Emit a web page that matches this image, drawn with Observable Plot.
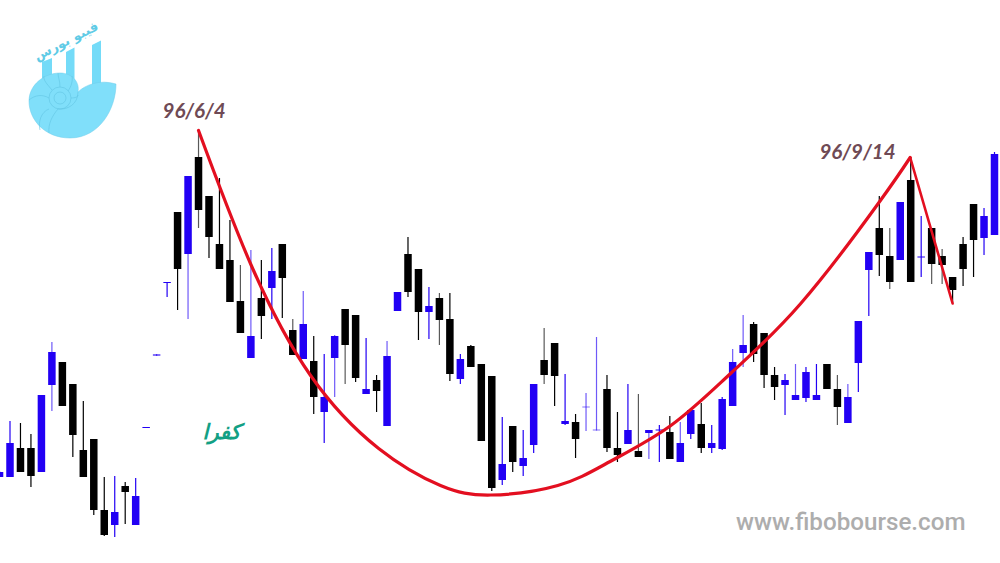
<!DOCTYPE html>
<html>
<head>
<meta charset="utf-8">
<script src="https://cdn.jsdelivr.net/npm/d3@7"></script>
<script src="https://cdn.jsdelivr.net/npm/@observablehq/plot@0.6"></script>
<style>
html,body{margin:0;padding:0;background:#fff;width:1000px;height:563px;overflow:hidden}
#wrap{position:relative;width:1000px;height:563px}
#logo{position:absolute;left:0;top:0}
</style>
</head>
<body>
<div id="wrap"><div id="chart"></div>
<svg id="logo" width="130" height="150" viewBox="0 0 130 150">
  <g fill="#74dbf8">
    <path d="M42 62L52 58V90H42Z"/>
    <path d="M66 52L74.500 47.500V90H66Z"/>
    <path d="M92 45L101 40.500V90H92Z"/>
  </g>
  <path d="M116 84C116 108 100 138 70 138C45 138 29 120 29 101C29 85 44 73 60 73C72 73 80 82 78 92C85 85 100 79 116 84Z" fill="#80dffa" stroke="#6fcdea" stroke-width=".5"/>
  <g fill="none" stroke="#62c4e2" stroke-width=".6">
    <circle cx="60" cy="98" r="11"/>
    <circle cx="60" cy="98" r="6"/>
    <path d="M78 92C78 104 68 110 58 109C52 116 48 124 49 133M49 109C41 112 38 122 40 130M49 98C42 94 35 95 29 100M52 90C47 84 43 80 44 76M60 87C60 81 58 77 58 73M68 91C71 87 73 81 72 76M71 98C75 98 78 97 78 95"/>
  </g>
  <text x="68" y="45" text-anchor="middle" transform="rotate(-27 68 45)" font-family="'DejaVu Sans'" font-size="13" font-weight="bold" fill="#5fcbe6" direction="rtl">فیبو بورس</text>
</svg>
</div>
<script>
const bar = d3.range(-1, 95);
const high = [471,421,423,434,395,342,362,384,401,439,477,476,482,478,427,354,282,212,176,130,196,178,220,265,250,260,248,244,319,291,336,354,335,309,315,338,375,341,292,237,269,287,293,293,354,345,364,376,417,426,430,384,328,343,374,414,393,337,375,412,384,394,430,425,416,422,410,403,425,397,349,315,322,333,367,374,364,367,364,364,375,384,321,252,196,228,202,157,216,228,249,277,237,204,208,152];
const top_ = [472,443,448,448,395,352,362,384,450,439,510,512,486,496,427,354,282,212,176,157,196,244,260,301,336,298,271,244,330,324,361,397,336,309,315,389,380,356,292,254,269,306,298,319,359,346,364,376,464,426,458,384,360,343,421,422,406.5,429.5,389,448,430,451,430,429.5,432,443,410,424,443,399,362,345,324,333,375,380,395,372,395,364,389,397,321,252,228,256,202,180,256.5,228,256,277,244,204,216,154];
const bottom = [477,477,472,476,472,385,406,435,477,510,535,525,492,525,428,356,283,269,254,210,237,269,302,333,358,316,288,278,355,359,397,412,358,345,378,394,391,426,311,292,312,312,320,374,379,367,441,488,480,462,466,445,375,376,424,439,407.5,430.5,448,455,444,457,433,430.5,459,462,434,448,448,449,406,353,354,375,387,385,400,398,400,389,407,423,363,270,255,282,260,282,257.5,264,265,290,269,240,238,235];
const low = [477,477,472,487,472,411,406,457,477,515,536,537,524,525,428,356,297,310,319,228,258,269,302,333,358,339,319,318,355,359,414,443,397,384,382,394,412,426,311,297,340,339,345,381,384,367,441,491,485,472,476,453,384,406,425,458,431,430.5,452,462,444,457,459,462,459,462,439,453,453,450,406,367,362,388,400,415,400,402,400,389,425,423,392,316,276,289,260,282,277,284,284,303,286,277,255,235];
const upBars = [-1,0,3,4,10,12,13,14,15,17,23,25,28,30,31,34,36,37,40,43,47,49,50,53,55,56,59,61,62,64,65,67,68,69,70,74,75,76,77,80,81,82,85,87,93,94];
const softBars = [4,14,17,18,22,23,27,28,31,32,36,41,51,55,56,60,61,64,69,70,75,79,80,84,88,89];

const curveBar = [18,23,28.7,35.2,41.1,45.9,52.3,57.3,63.1,68.8,75.5,82.9,85.95];
const curveVal = [130,264,375,448,485,494.5,485,461,425,373,303,203,157];
const dropBar = [85.95,90];
const dropVal = [157,303];

const dateLabels = ["96/6/4","96/9/14"];
const dateBars = [20.6,84.55];
const dateVals = [111,152];
const symbol = "کفرا";
const site = "www.fibobourse.com";

const BLUE = "#2200f4", RED = "#e30f20";
const candles = bar.map((b,i)=>({b,high:high[i],top:top_[i],bottom:bottom[i],low:low[i],
  color: upBars.includes(b)?BLUE:"#000", soft: softBars.includes(b)}));
const curve = curveBar.map((b,i)=>({b,v:curveVal[i]}));
const drop = dropBar.map((b,i)=>({b,v:dropVal[i]}));
const labels = dateLabels.map((t,i)=>({t,b:dateBars[i],v:dateVals[i]}));

const chart = Plot.plot({
  width:1000,height:563,margin:0,
  style:{background:"#fff"},
  x:{axis:null,domain:[0,94],range:[9.5,994]},
  y:{axis:null,domain:[563,0]},
  marks:[
    Plot.ruleX(candles,{x:"b",y1:"high",y2:"low",stroke:"color",strokeWidth:1.2,strokeOpacity:d=>d.soft?0.65:1}),
    Plot.ruleX(candles,{x:"b",y1:"top",y2:"bottom",stroke:"color",strokeWidth:7.5,strokeOpacity:d=>(d.bottom-d.top<=2&&d.soft)?0.55:1}),
    Plot.line(curve,{x:"b",y:"v",stroke:RED,strokeWidth:3.2,curve:"natural"}),
    Plot.line(drop,{x:"b",y:"v",stroke:RED,strokeWidth:2.6}),
    Plot.text(labels,{x:"b",y:"v",text:"t",fill:"#6f4a55",fontSize:20.5,fontWeight:700,fontStyle:"italic",fontFamily:"Lato",textAnchor:"end",style:{letterSpacing:"1.2px"}}),
    Plot.text([symbol],{x:[20.2],y:[432],text:d=>d,fill:"#12a084",fontSize:21,fontWeight:"bold",fontStyle:"italic",fontFamily:"DejaVu Sans"}),
    Plot.text([site],{frameAnchor:"bottom-right",dx:-35,dy:-34,text:d=>d,fill:"#adadad",fontSize:24.2,fontWeight:500,fontFamily:"Roboto"})
  ]
});
document.getElementById("chart").appendChild(chart);
</script>
</body>
</html>
